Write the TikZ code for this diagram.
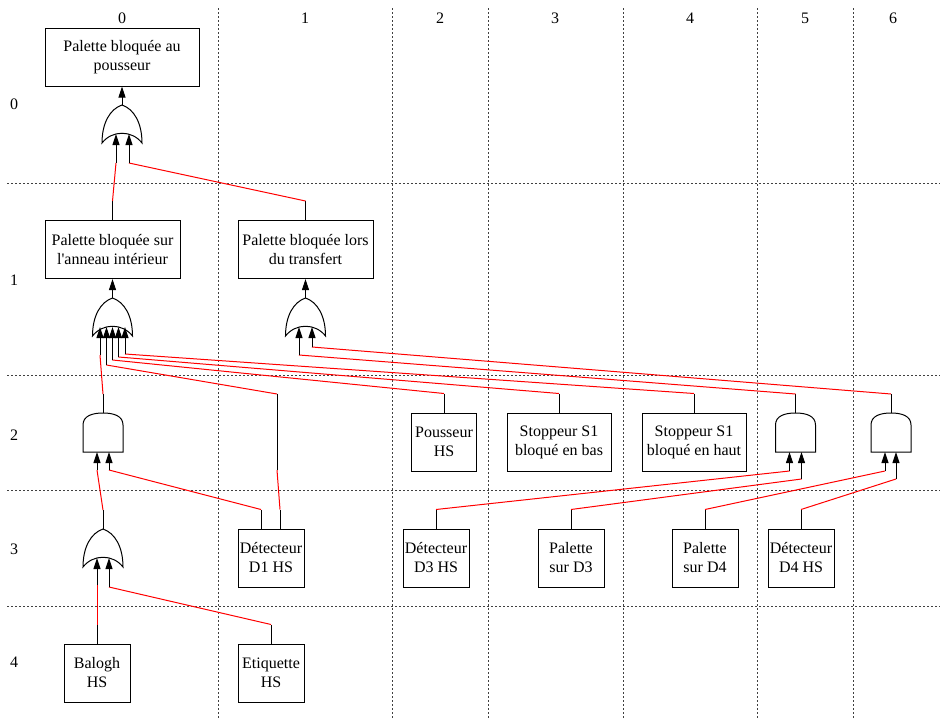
\documentclass[tikz,border=0pt]{standalone}
\usepackage{fontspec}
\setmainfont{Liberation Serif}
\usetikzlibrary{arrows.meta,calc}

% gate symbols, #1 = name of the top point
\newcommand{\orgate}[1]{%
  \begin{scope}[shift={(#1)}]
    \draw[gate] (0,0) .. controls (-12,4) and (-20,18) .. (-20,38)
      .. controls (-10,25) and (10,25) .. (20,38)
      .. controls (20,18) and (12,4) .. (0,0) -- cycle;
  \end{scope}}
\newcommand{\andgate}[1]{%
  \begin{scope}[shift={(#1)}]
    \draw[gate] (-20,39) -- (-20,12) .. controls (-20,3) and (-11,0) .. (0,0)
      .. controls (11,0) and (20,3) .. (20,12) -- (20,39) -- cycle;
  \end{scope}}
% link: child point, gate input, depth of the bend below the input
\newcommand{\wire}[3]{%
  \draw[stem] (#1) -- ++(0,-19) coordinate (w);
  \draw[link] (w) -- ($(#2)+(0,#3)$) coordinate (v);
  \draw[stem,arr] (v) -- (#2);}

\begin{document}
\begin{tikzpicture}[x=1pt,y=-1pt,
  evbox/.style={draw,line width=1pt,inner sep=0pt,align=center,
    minimum height=58pt,font=\fontsize{16}{19}\selectfont},
  lab/.style={font=\fontsize{16}{19}\selectfont},
  grid/.style={black!75,line width=0.8pt,dash pattern=on 2pt off 2pt},
  gate/.style={line width=1pt},
  stem/.style={line width=1pt},
  link/.style={red,line width=1pt},
  arr/.style={-{Triangle[length=11pt,width=7pt]}}]
\useasboundingbox (0,0) rectangle (940,720);

% grid
\foreach \x in {218,392,488,623,757,853}
  \draw[grid] (\x,8) -- (\x,720);
\foreach \y in {183,375,490,606}
  \draw[grid] (7,\y) -- (940,\y);
\foreach \i/\x in {0/122,1/305,2/440,3/555,4/690,5/805,6/893}
  \node[lab] (col\i) at (\x,18) {\i};
\foreach \i/\y in {0/104,1/280,2/435,3/549,4/662}
  \node[lab] (row\i) at (14,\y) {\i};

% events
\node[evbox,minimum width=154pt] (top) at (122,57) {Palette bloquée au\\pousseur};
\node[evbox,minimum width=135pt] (ring) at (112.5,249.5) {Palette bloquée sur\\l\textquotesingle anneau intérieur};
\node[evbox,minimum width=135pt] (transf) at (305.5,249.5) {Palette bloquée lors\\du transfert};
\node[evbox,minimum width=65pt] (pous) at (444,442) {Pousseur\\HS};
\node[evbox,minimum width=104pt] (sbas) at (559,442) {Stoppeur S1\\bloqué en bas};
\node[evbox,minimum width=104pt] (shaut) at (694,442) {Stoppeur S1\\bloqué en haut};
\node[evbox,minimum width=66pt] (det1) at (271,558) {Détecteur\\D1 HS};
\node[evbox,minimum width=66pt] (det3) at (436,558) {Détecteur\\D3 HS};
\node[evbox,minimum width=66pt] (pald3) at (571,558) {Palette\\sur D3};
\node[evbox,minimum width=66pt] (pald4) at (705,558) {Palette\\sur D4};
\node[evbox,minimum width=66pt] (det4) at (801,558) {Détecteur\\D4 HS};
\node[evbox,minimum width=66pt] (balogh) at (97,673) {Balogh\\HS};
\node[evbox,minimum width=66pt] (etiq) at (271,673) {Etiquette\\HS};

% gates
\coordinate (or0) at (122,105);
\coordinate (or1) at (112.5,298);
\coordinate (or2) at (305.5,298);
\coordinate (and1) at (103,413);
\coordinate (and2) at (795.5,413);
\coordinate (and3) at (891,413);
\coordinate (or3) at (103,529);
\orgate{or0} \orgate{or1} \orgate{or2} \orgate{or3}
\andgate{and1} \andgate{and2} \andgate{and3}

\coordinate (or0-1) at ($(or0)+(-6,29)$);
\coordinate (or0-2) at ($(or0)+(7,29)$);
\coordinate (or1-1) at ($(or1)+(-12.5,29)$);
\coordinate (or1-2) at ($(or1)+(-6,29)$);
\coordinate (or1-3) at ($(or1)+(0,29)$);
\coordinate (or1-4) at ($(or1)+(6,29)$);
\coordinate (or1-5) at ($(or1)+(12.5,29)$);
\coordinate (or2-1) at ($(or2)+(-6.5,29)$);
\coordinate (or2-2) at ($(or2)+(6.5,29)$);
\coordinate (and1-1) at ($(and1)+(-6,39)$);
\coordinate (and1-2) at ($(and1)+(6,39)$);
\coordinate (and2-1) at ($(and2)+(-6,39)$);
\coordinate (and2-2) at ($(and2)+(6,39)$);
\coordinate (and3-1) at ($(and3)+(-6,39)$);
\coordinate (and3-2) at ($(and3)+(5,39)$);
\coordinate (or3-1) at ($(or3)+(-6,29)$);
\coordinate (or3-2) at ($(or3)+(6,29)$);

% gate outputs
\draw[stem,arr] (or0) -- (top.south);
\draw[stem,arr] (or1) -- (ring.south);
\draw[stem,arr] (or2) -- (transf.south);

% links
\wire{ring.north}{or0-1}{29}
\wire{transf.north}{or0-2}{29}
\wire{and1}{or1-1}{28}
\wire{pous.north}{or1-3}{33}
\wire{sbas.north}{or1-4}{30}
\wire{shaut.north}{or1-5}{27}
\wire{and2}{or2-1}{28}
\wire{and3}{or2-2}{20}
\wire{or3}{and1-1}{18}
\wire{[xshift=-10pt]det1.north}{and1-2}{18}
\wire{det3.north}{and2-1}{19}
\wire{pald3.north}{and2-2}{27}
\wire{pald4.north}{and3-1}{19}
\wire{det4.north}{and3-2}{27}
\wire{balogh.north}{or3-1}{27}
\wire{etiq.north}{or3-2}{29}
% second output of D1 up to the ring gate
\draw[stem] ([xshift=9pt]det1.north) -- ++(0,-19) coordinate (d1a);
\coordinate (d1b) at (277,470);
\coordinate (d1c) at (277,394);
\draw[link] (d1a) -- (d1b);
\draw[stem] (d1b) -- (d1c);
\draw[link] (d1c) -- ($(or1-2)+(0,38)$) coordinate (d1d);
\draw[stem,arr] (d1d) -- (or1-2);
\end{tikzpicture}
\end{document}
